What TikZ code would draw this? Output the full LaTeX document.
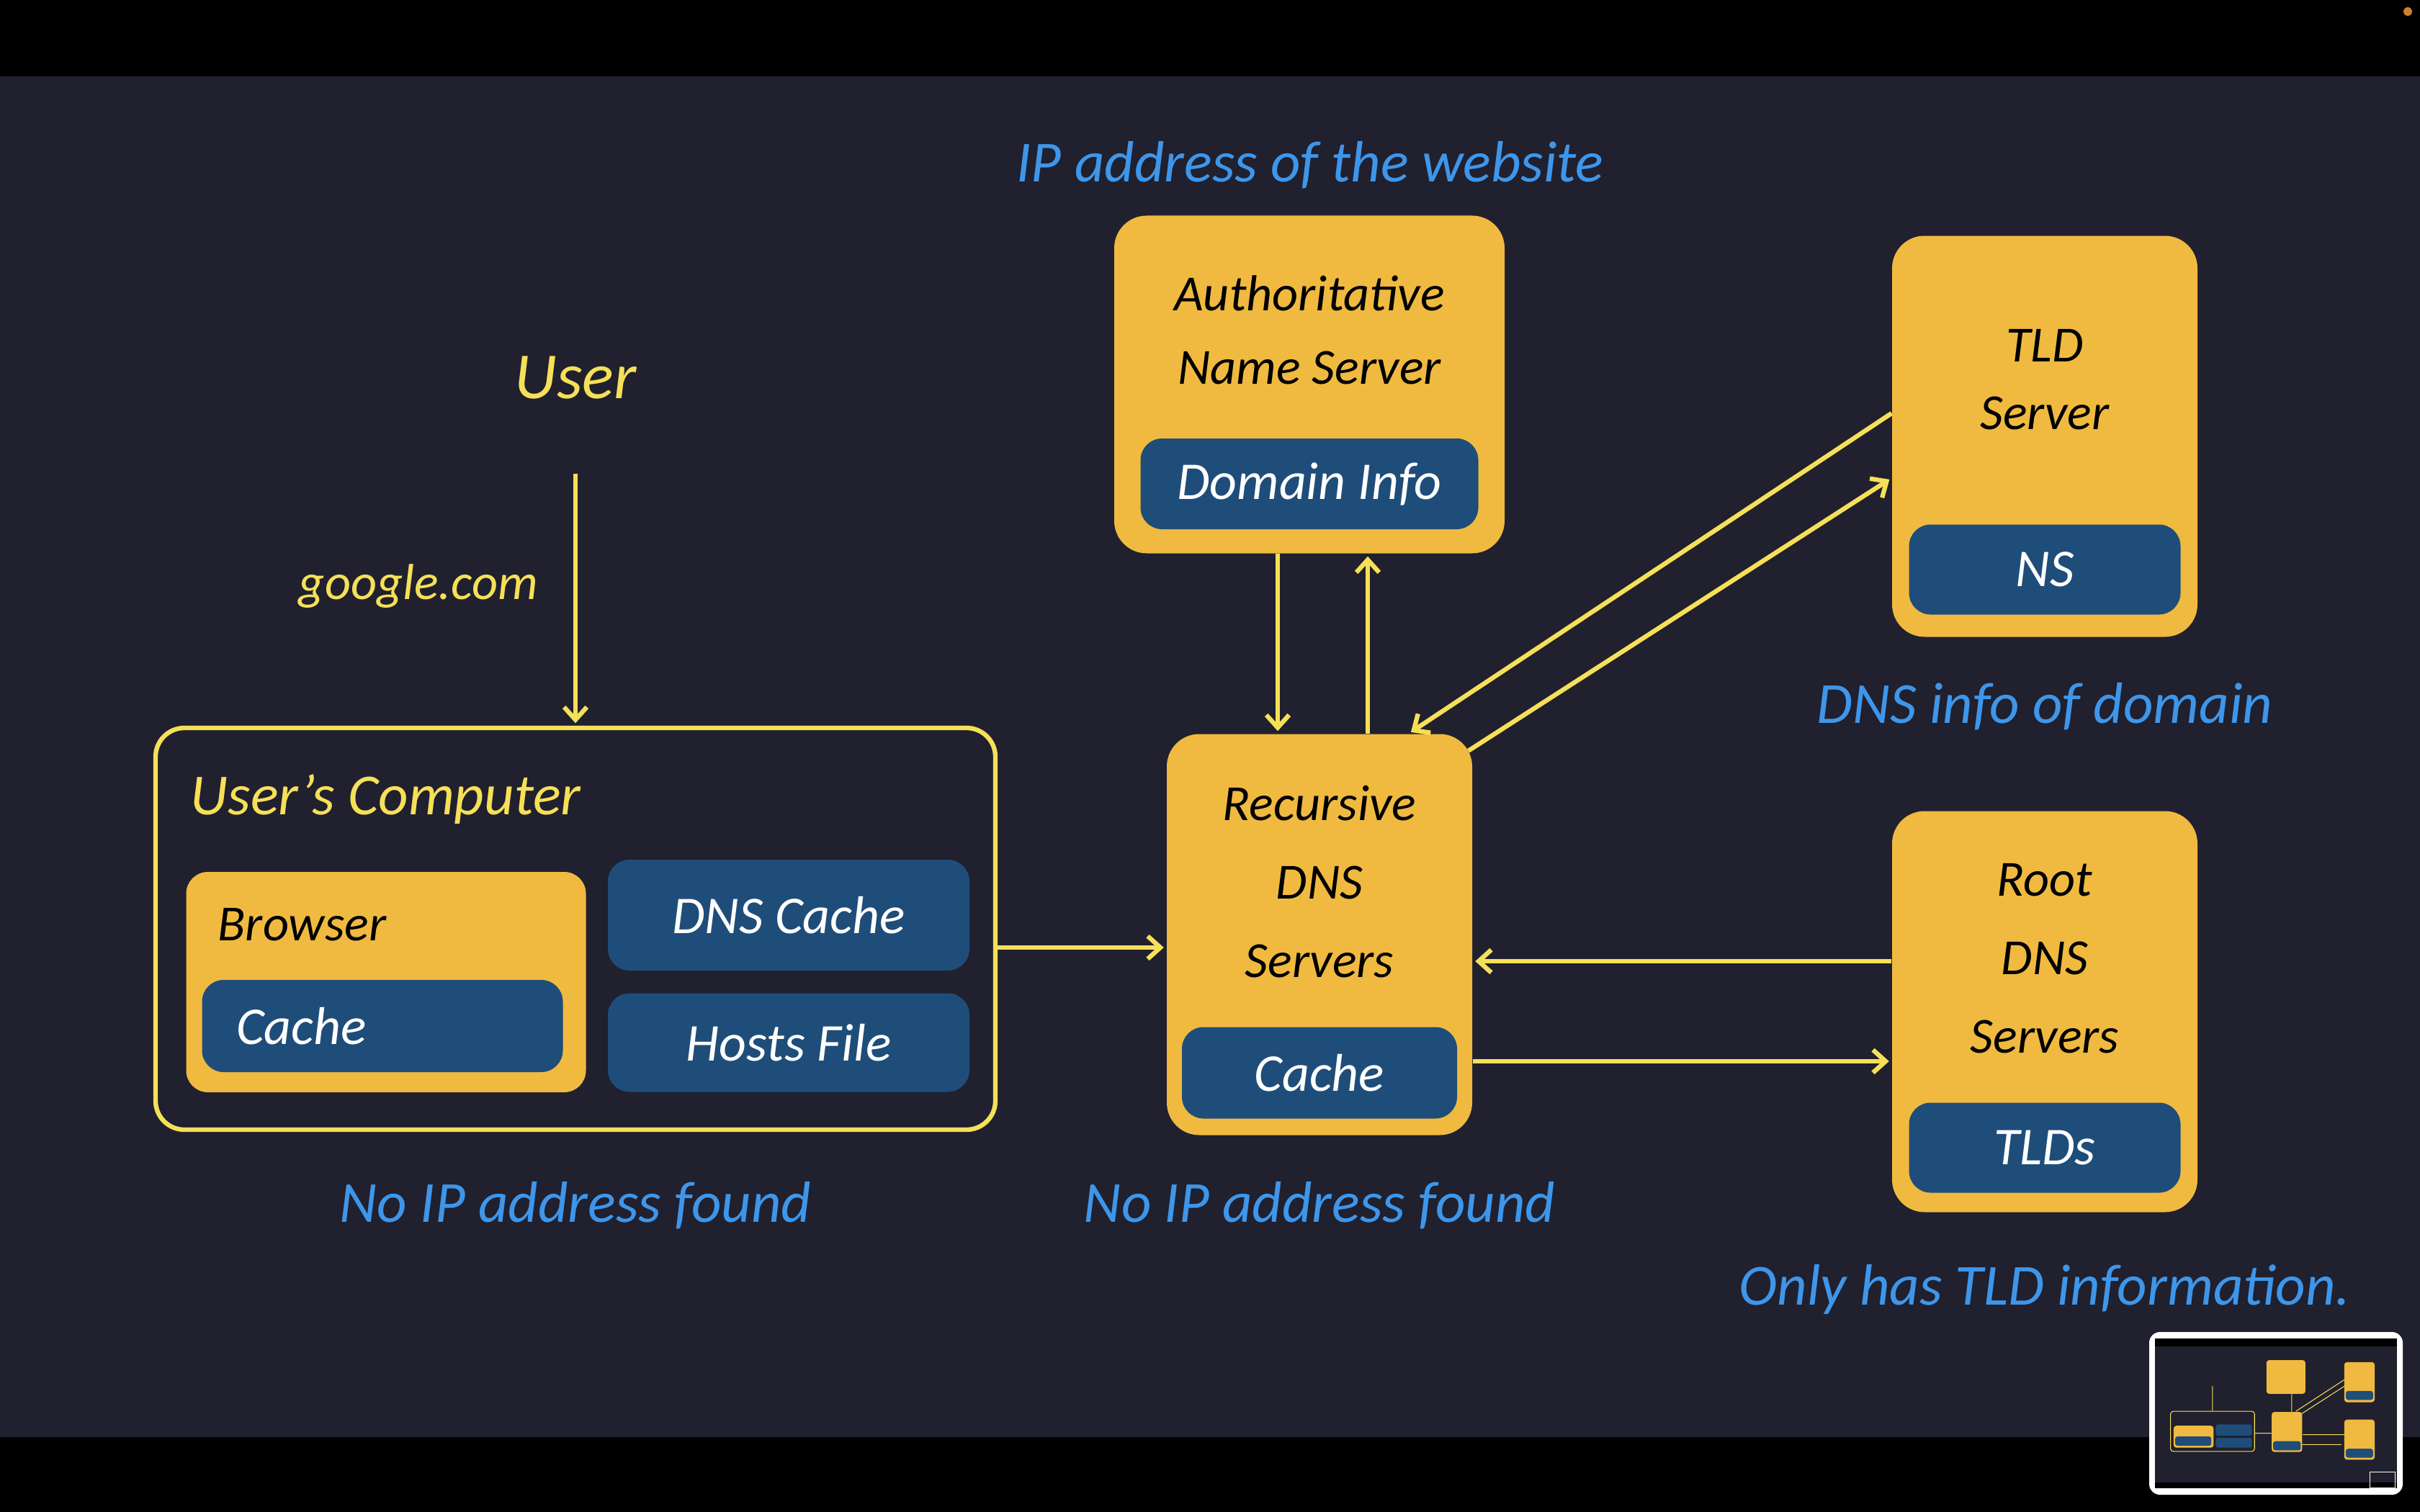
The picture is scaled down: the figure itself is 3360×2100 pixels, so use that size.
\documentclass[tikz,border=0pt]{standalone}
\usepackage{fontspec}
\setmainfont{Carlito}
\usetikzlibrary{arrows.meta}

\definecolor{bgdark}{RGB}{32,32,46}
\definecolor{boxyellow}{RGB}{240,186,64}
\definecolor{innerblue}{RGB}{31,77,122}
\definecolor{lineyellow}{RGB}{245,224,88}
\definecolor{noteblue}{RGB}{62,150,234}
\definecolor{dotorange}{RGB}{204,128,48}

\begin{document}
\begin{tikzpicture}[x=0.1mm,y=-0.1mm,>={Straight Barb[length=5pt,width=9pt]},shorten >=1pt]
  \tikzstyle{server}=[fill=boxyellow,rounded corners=4.5mm,minimum width=42.4mm,minimum height=55.7mm]
  \tikzstyle{store}=[fill=innerblue,rounded corners=3mm,text=white,font=\fontsize{21}{24}\selectfont\itshape,minimum height=12.5mm]
  \tikzstyle{title}=[text=black,align=center,font=\fontsize{20}{31}\selectfont\itshape]
  \tikzstyle{note}=[text=noteblue,font=\fontsize{23}{26}\selectfont\itshape]
  \tikzstyle{link}=[draw=lineyellow,->,line width=1.8pt]

  % screen
  \fill[black] (0,0) rectangle (3360,2100);
  \fill[bgdark] (0,106) rectangle (3360,1996);
  \fill[dotorange] (3343,16) circle (6);

  \node[server,minimum width=54.2mm,minimum height=46.9mm] (auth) at (1818,534) {};
  \node[title,font=\fontsize{20}{29}\selectfont\itshape] (authT) at (1818,458) {Authoritative\\Name Server};
  \node[store,minimum width=46.9mm,minimum height=12.6mm] (authI) at (1818,672) {Domain Info};

  \node[server] (tld) at (2839,606) {};
  \node[title,font=\fontsize{20}{26.6}\selectfont\itshape] (tldT) at (2839,527) {TLD\\Server};
  \node[store,minimum width=37.7mm] (tldI) at (2839,791) {NS};

  \node[server] (root) at (2839,1405) {};
  \node[title] (rootT) at (2839,1331) {Root\\DNS\\Servers};
  \node[store,minimum width=37.7mm] (rootI) at (2839,1594) {TLDs};

  \node[server] (rec) at (1832,1298) {};
  \node[title] (recT) at (1832,1225) {Recursive\\DNS\\Servers};
  \node[store,minimum width=38.2mm,minimum height=12.7mm] (recI) at (1832,1490) {Cache};

  % user's computer
  \node[draw=lineyellow,line width=1.8pt,rounded corners=4mm,minimum width=116.6mm,minimum height=55.8mm] (comp) at (799,1290) {};
  \node[anchor=west,inner sep=0pt,text=lineyellow,font=\fontsize{23}{26}\selectfont\itshape] (compT) at (264,1110) {User's Computer};
  \node[fill=boxyellow,rounded corners=3mm,minimum width=55.5mm,minimum height=30.6mm] (browser) at (536,1364) {};
  \node[title,anchor=west,inner sep=0pt] (browserT) at (302,1284) {Browser};
  \node[store,minimum width=50.1mm,minimum height=12.8mm,inner xsep=4.75mm,text width=40.6mm,align=left] (browserI) at (531,1425) {Cache};
  \node[store,minimum width=50.2mm,minimum height=15.4mm] (dnscache) at (1095,1271) {DNS Cache};
  \node[store,minimum width=50.2mm,minimum height=13.7mm] (hosts) at (1095,1448) {Hosts File};

  \node[text=lineyellow,font=\fontsize{26}{30}\selectfont\itshape] (user) at (799,525) {User};
  \node[text=lineyellow,font=\fontsize{20}{24}\selectfont\itshape] (query) at (581,814) {google.com};
  \node[note] (ipnote) at (1819,229) {IP address of the website};
  \node[note] (nsnote) at (2839,981) {DNS info of domain};
  \node[note] (tldnote) at (2839,1791) {Only has TLD information.};
  \node[note] (compnote) at (799,1674) {No IP address found};
  \node[note] (recnote) at (1832,1674) {No IP address found};

  \coordinate (userout) at (799,658);
  \path (userout) edge [link] (comp.north)
        (comp.east |- 0,1316) edge [link] (rec.west |- 0,1316)
        (auth.south -| 1774,0) edge [link] (rec.north -| 1774,0)
        (rec.north -| 1899,0) edge [link] (auth.south -| 1899,0)
        (tld.west |- 0,574) edge [link] (rec.north -| 1956,0)
        ([shift={(-6,24)}]rec.north east) edge [link] (tld.west |- 0,664)
        (root.west |- 0,1335) edge [link] (rec.east |- 0,1335)
        (rec.east |- 0,1474) edge [link] (root.west |- 0,1474);

  % thumbnail of the slide
  \fill[white,rounded corners=1.5mm] (2984,1850) rectangle (3336,2076);
  \begin{scope}[shift={(2992,1859)},scale=0.1]
    \fill[black] (0,0) rectangle (3360,2080);
    \fill[bgdark] (0,106) rectangle (3360,1996);
    \foreach \a/\b/\c/\d in {1547/300/2089/769, 2627/328/3051/885, 2627/1127/3051/1684,
                             1620/1020/2044/1577, 259/1211/814/1517}
      \fill[boxyellow,rounded corners=0.4mm] (\a,\b) rectangle (\c,\d);
    \foreach \a/\b/\c/\d in {2651/729/3028/853, 2651/1532/3028/1656, 1641/1427/2023/1554,
                             281/1361/782/1489, 844/1194/1346/1348, 844/1380/1346/1517}
      \fill[innerblue,rounded corners=0.3mm] (\a,\b) rectangle (\c,\d);
    \draw[lineyellow,line width=0.3pt,rounded corners=0.4mm] (216,1011) rectangle (1382,1569);
    \draw[lineyellow,line width=0.3pt] (799,658) -- (799,1007) (1389,1316) -- (1616,1316)
      (1899,1016) -- (1899,771) (2627,574) -- (1956,1011) (2038,1044) -- (2627,664)
      (2627,1335) -- (2053,1335) (2044,1474) -- (2623,1474);
    \draw[white,line width=0.3pt] (2985,1850) rectangle (3336,2076);
  \end{scope}
\end{tikzpicture}
\end{document}
